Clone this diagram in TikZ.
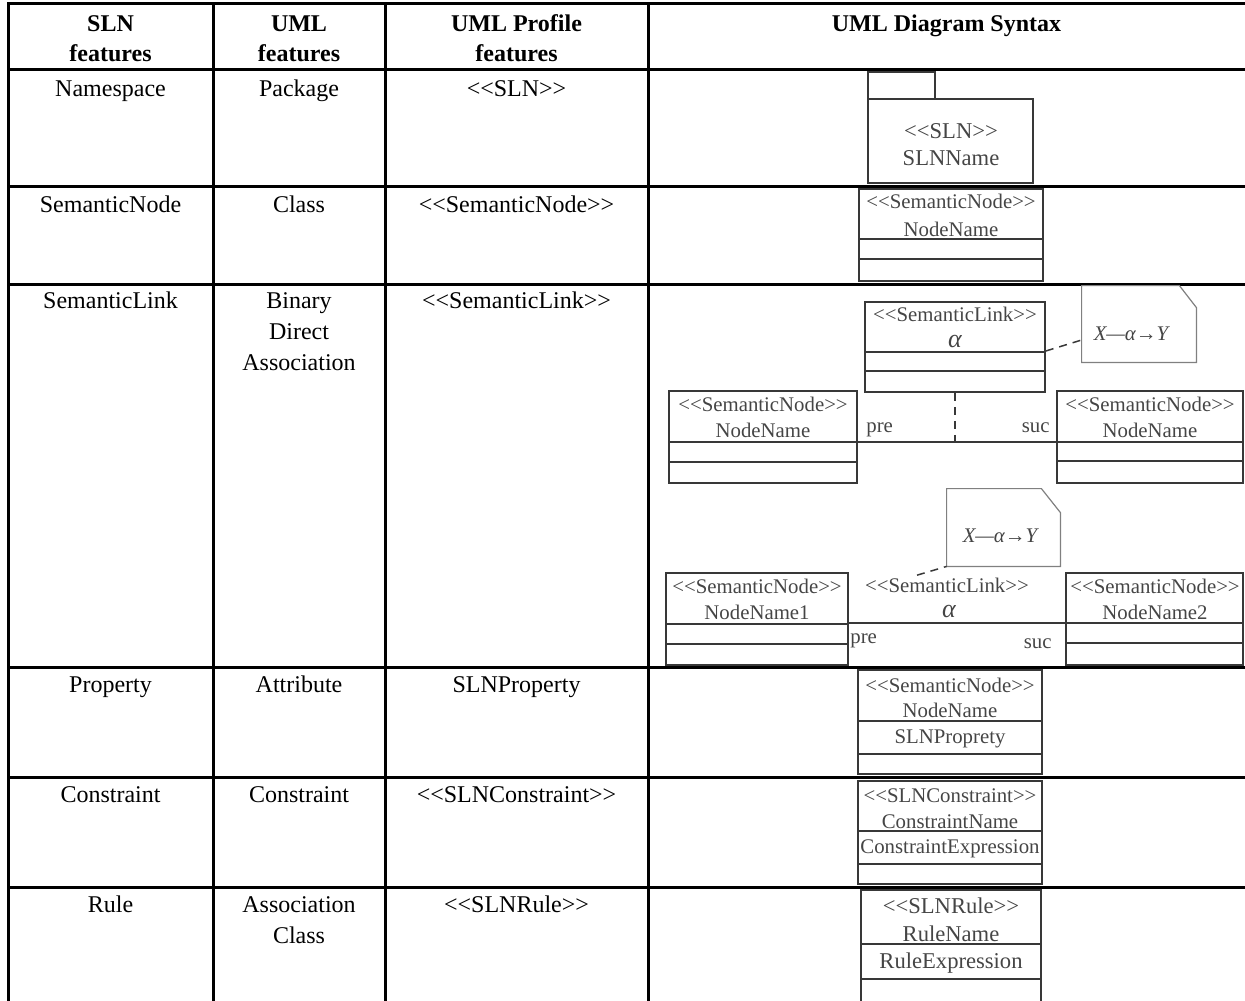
\documentclass[tikz,border=0pt]{standalone}
\usepackage{fontspec}
\setmainfont{Liberation Serif}
\usetikzlibrary{fit}

\definecolor{umlline}{gray}{0.22}
\definecolor{umltext}{gray}{0.27}
\definecolor{noteline}{gray}{0.5}

% stereotype text: <<name>> (each bracket boxed so no guillemet is formed)
\newcommand{\stereo}[1]{\mbox{<}\mbox{<}#1\mbox{>}\mbox{>}}
% horizontal compartment divider inside a class box
\newcommand{\umldiv}[2]{\draw[umlline, line width=0.75pt] (#1.west |- 0,#2) -- (#1.east |- 0,#2);}

\tikzset{
  rule/.style={line width=1.5pt, line cap=rect},
  cell/.style={anchor=base, inner sep=0pt, font=\fontsize{12}{14}\selectfont},
  head/.style={cell, font=\fontsize{12}{14}\selectfont\bfseries},
  umlbox/.style={draw=umlline, line width=0.8pt, inner sep=0pt},
  notebox/.style={inner sep=0pt},
  noteedge/.style={draw=noteline, line width=0.6pt, line join=miter},
  utext/.style={anchor=base, inner sep=0pt, text=umltext, font=\fontsize{10.4}{12}\selectfont},
  ubig/.style={utext, font=\fontsize{11.3}{13}\selectfont},
  alpha/.style={anchor=base, inner sep=0pt, text=umltext, font=\fontsize{13}{14}\selectfont\itshape},
  notetext/.style={anchor=base, inner sep=0pt, text=umltext, font=\fontsize{10.4}{12}\selectfont\itshape},
  assoc/.style={draw=umlline, line width=0.75pt},
  dep/.style={draw=umlline, line width=0.75pt, dashed, dash pattern=on 4pt off 3pt},
}

\begin{document}
\begin{tikzpicture}[x=0.5pt, y=-0.5pt]
\useasboundingbox (0,0) rectangle (1245,1000);
\clip (0,0) rectangle (1245,1000);

% ---------- table grid ----------
\foreach \y in {4,70,187,284,667,777,887}
  \draw[rule] (8,\y) -- (1245,\y);
\foreach \x in {8,213,385,648}
  \draw[rule] (\x,4) -- (\x,1000);

% ---------- header ----------
\node[head] (hA1) at (110.5,32) {SLN};
\node[head] (hA2) at (110.5,62) {features};
\node[head] (hB1) at (299,32) {UML};
\node[head] (hB2) at (299,62) {features};
\node[head] (hC1) at (516.5,32) {UML Profile};
\node[head] (hC2) at (516.5,62) {features};
\node[head] (hD1) at (946.5,32) {UML Diagram Syntax};

% ---------- text columns ----------
\node[cell] (r1a) at (110.5,97) {Namespace};
\node[cell] (r1b) at (299,97) {Package};
\node[cell] (r1c) at (516.5,97) {\stereo{SLN}};

\node[cell] (r2a) at (110.5,213) {SemanticNode};
\node[cell] (r2b) at (299,213) {Class};
\node[cell] (r2c) at (516.5,213) {\stereo{SemanticNode}};

\node[cell] (r3a) at (110.5,308) {SemanticLink};
\node[cell] (r3b1) at (299,308) {Binary};
\node[cell] (r3b2) at (299,339) {Direct};
\node[cell] (r3b3) at (299,370) {Association};
\node[cell] (r3c) at (516.5,308) {\stereo{SemanticLink}};

\node[cell] (r4a) at (110.5,692) {Property};
\node[cell] (r4b) at (299,692) {Attribute};
\node[cell] (r4c) at (516.5,692) {SLNProperty};

\node[cell] (r5a) at (110.5,802) {Constraint};
\node[cell] (r5b) at (299,802) {Constraint};
\node[cell] (r5c) at (516.5,802) {\stereo{SLNConstraint}};

\node[cell] (r6a) at (110.5,912) {Rule};
\node[cell] (r6b1) at (299,912) {Association};
\node[cell] (r6b2) at (299,943) {Class};
\node[cell] (r6c) at (516.5,912) {\stereo{SLNRule}};

% ---------- package ----------
\node[umlbox, fit={(868,72) (935,99)}] (pkgTab) {};
\node[umlbox, fit={(868,99) (1033,183)}] (pkgBody) {};
\node[ubig] (pkgS) at (951,139) {\stereo{SLN}};
\node[ubig] (pkgN) at (951,166) {SLNName};

% ---------- class ----------
\node[umlbox, fit={(859,189) (1043,281)}] (cls) {};
\umldiv{cls}{239}
\umldiv{cls}{259}
\node[utext] (clsS) at (951,208) {\stereo{SemanticNode}};
\node[utext] (clsN) at (951,236) {NodeName};

% ---------- semantic link: association class form ----------
\node[umlbox, fit={(865,302) (1045,392)}] (lnk) {};
\umldiv{lnk}{352}
\umldiv{lnk}{371}
\node[utext] (lnkS) at (955,321) {\stereo{SemanticLink}};
\node[alpha] (lnkA) at (955,347) {α};

\node[notebox, fit={(1082,286) (1196,362)}] (noteA) {};
\draw[noteedge] (noteA.south west) -- (noteA.north west) -- ([xshift=-8.5pt]noteA.north east)
  -- ([yshift=-11pt]noteA.north east) -- (noteA.south east) -- cycle;
\node[notetext] (noteAT) at (1131,340) {X—α→Y};
\draw[dep] (lnk.east |- 0,351) -- (noteA.west |- 0,340);

\node[umlbox, fit={(669,391) (857,483)}] (nL) {};
\umldiv{nL}{442}
\umldiv{nL}{462}
\node[utext] (nLS) at (763,411) {\stereo{SemanticNode}};
\node[utext] (nLN) at (763,437) {NodeName};

\node[umlbox, fit={(1057,391) (1243,483)}] (nR) {};
\umldiv{nR}{442}
\umldiv{nR}{461}
\node[utext] (nRS) at (1150,411) {\stereo{SemanticNode}};
\node[utext] (nRN) at (1150,437) {NodeName};

\draw[assoc] (nL.east |- 0,442) coordinate (jL) -- (nR.west |- 0,442) coordinate (jR);
\coordinate (jM) at (lnk.south |- jL);
\draw[dep] (lnk.south) -- (jM);
\node[utext, anchor=base west] (preA) at (866,432) {pre};
\node[utext, anchor=base east] (sucA) at (1050,432) {suc};

% ---------- semantic link: labelled association form ----------
\node[notebox, fit={(947,489) (1060,566)}] (noteB) {};
\draw[noteedge] (noteB.south west) -- (noteB.north west) -- ([xshift=-9.5pt]noteB.north east)
  -- ([yshift=-12pt]noteB.north east) -- (noteB.south east) -- cycle;
\node[notetext] (noteBT) at (1000,542) {X—α→Y};

\node[umlbox, fit={(666,573) (848,665)}] (mL) {};
\umldiv{mL}{624}
\umldiv{mL}{644}
\node[utext] (mLS) at (757,593) {\stereo{SemanticNode}};
\node[utext] (mLN) at (757,619) {NodeName1};

\node[umlbox, fit={(1066,573) (1243,665)}] (mR) {};
\umldiv{mR}{623}
\umldiv{mR}{643}
\node[utext] (mRS) at (1155,593) {\stereo{SemanticNode}};
\node[utext] (mRN) at (1155,619) {NodeName2};

\draw[assoc] (mL.east |- 0,623) -- (mR.west |- 0,623);
\node[utext] (lnkS2) at (947,592) {\stereo{SemanticLink}};
\node[alpha] (lnkA2) at (949,617) {α};
\draw[dep] ([xshift=-15pt, yshift=1pt]lnkS2.north) -- (noteB.south west);
\node[utext, anchor=base west] (preB) at (850,643) {pre};
\node[utext, anchor=base east] (sucB) at (1052,648) {suc};

% ---------- property ----------
\node[umlbox, fit={(858,670) (1042,774)}] (prop) {};
\umldiv{prop}{721}
\umldiv{prop}{754}
\node[utext] (propS) at (950,692) {\stereo{SemanticNode}};
\node[utext] (propN) at (950,717) {NodeName};
\node[utext] (propP) at (950,743) {SLNProprety};

% ---------- constraint ----------
\node[umlbox, fit={(858,781) (1042,884)}] (cons) {};
\umldiv{cons}{831}
\umldiv{cons}{864}
\node[utext] (consS) at (950,802) {\stereo{SLNConstraint}};
\node[utext] (consN) at (950,828) {ConstraintName};
\node[utext] (consE) at (950,853) {ConstraintExpression};

% ---------- rule ----------
\node[umlbox, fit={(861,890) (1041,1012)}] (rul) {};
\umldiv{rul}{944}
\umldiv{rul}{979}
\node[ubig] (rulS) at (951,913) {\stereo{SLNRule}};
\node[ubig] (rulN) at (951,941) {RuleName};
\node[ubig] (rulE) at (951,968) {RuleExpression};
\end{tikzpicture}
\end{document}
